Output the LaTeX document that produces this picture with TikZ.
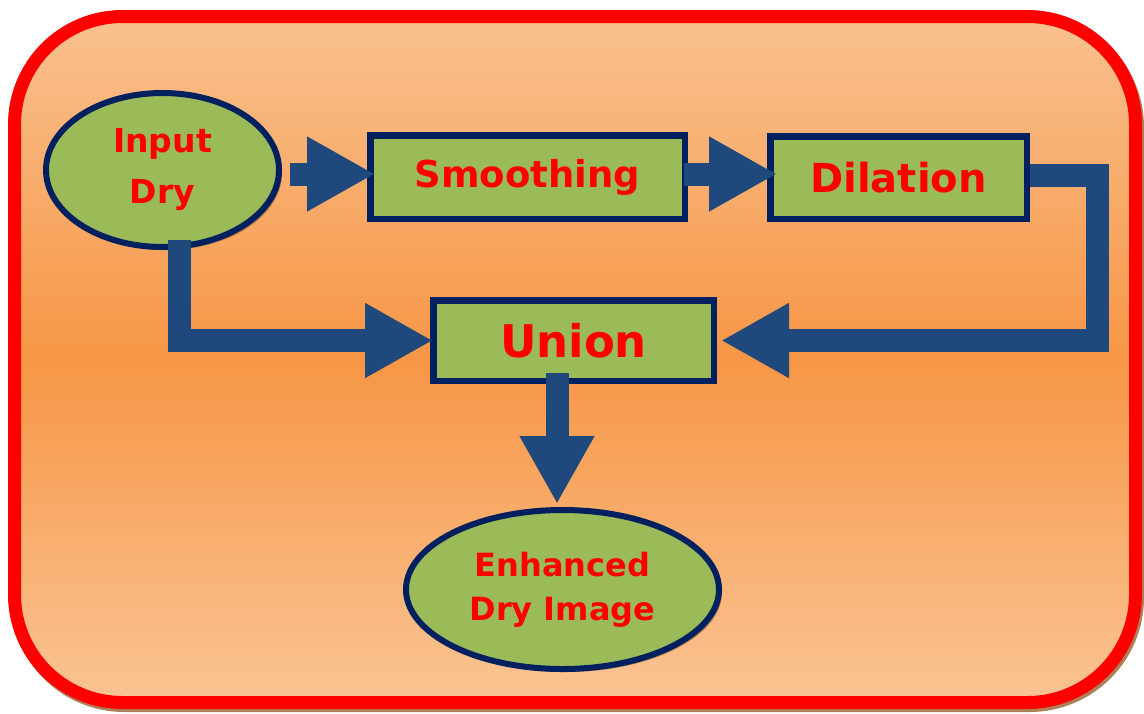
\documentclass[tikz,border=0pt]{standalone}
\usepackage{fontspec}
\setmainfont{DejaVu Sans}
\usetikzlibrary{arrows.meta,shapes.geometric,shadows,calc}

\definecolor{frameRed}{HTML}{FF0000}
\definecolor{frameShade}{HTML}{8A4B10}
\definecolor{boxGreen}{HTML}{9BBB59}
\definecolor{boxNavy}{HTML}{002060}
\definecolor{flowBlue}{HTML}{1F497D}
\definecolor{peachTop}{HTML}{F9C18F}
\definecolor{peachMid}{HTML}{F79646}
\definecolor{peachBot}{HTML}{FAC494}

\begin{document}
\begin{tikzpicture}[x=0.5pt,y=-0.5pt,
  softshadow/.style={drop shadow={shadow xshift=1.5pt,shadow yshift=-1.5pt,
      fill=black!45!brown,opacity=0.55}},
  stepbox/.style={rectangle,draw=boxNavy,line width=3.25pt,fill=boxGreen,
      text=frameRed,inner sep=0pt,softshadow},
  stepoval/.style={ellipse,draw=boxNavy,line width=3pt,fill=boxGreen,
      text=frameRed,inner sep=0pt,align=center,softshadow},
  flow/.style={draw=flowBlue,line width=11.5pt,line join=miter,
      -{Triangle[width=35pt,length=34pt]}},
  txt/.style 2 args={font=\bfseries\fontsize{#1}{#2}\selectfont}
]
\useasboundingbox (0,0) rectangle (1144,713);

% outer frame: a shadow copy, then the shaded panel with its red rim
\draw[frameShade,opacity=0.7,line width=6.5pt,rounded corners=54pt]
  (16.5,19.5) rectangle (1137.5,705.5);
\draw[frameRed,line width=6.5pt,rounded corners=54pt,
      top color=peachTop,bottom color=peachBot,middle color=peachMid]
  (14.5,16.5) rectangle (1135.5,702.5);

% process steps
\node[stepoval,minimum width=116.5pt,minimum height=77pt,txt={16.5pt}{25.5pt}]
  (in) at (162.5,170) {Input\\Dry};
\node[stepbox,minimum width=157.25pt,minimum height=41.75pt,txt={18.5pt}{22pt}]
  (sm) at (527.5,177) {Smoothing};
\node[stepbox,minimum width=128.25pt,minimum height=41.25pt,txt={20pt}{24pt}]
  (di) at (898.5,177.5) {Dilation};
\node[stepbox,minimum width=140.25pt,minimum height=40.25pt,txt={22.5pt}{26pt}]
  (un) at (573.5,340.5) {Union};
\node[stepoval,minimum width=156.5pt,minimum height=79.5pt,txt={16pt}{22pt}]
  (en) at (562.5,589.5) {Enhanced\\Dry Image};

% block arrows between the steps
\draw[flow] ($(in.east |- sm.west)+(8,-3)$) -- ($(sm.west)+(8,-3)$);
\draw[flow] ($(sm.east)+(-4,-3)$) -- ($(sm.east -| di.west)+(10,-3)$);
\draw[flow] ($(di.east)+(0,-2.5)$) -- ++(67,0) |- ($(un.east)+(4,0)$);
\draw[flow] ($(in.south)+(16.5,-10)$) |- ($(un.west)+(3,0)$);
\draw[flow] ($(un.south)+(-16.5,-11)$) -- ($(en.north)+(-5.5,-3)$);
\end{tikzpicture}
\end{document}
